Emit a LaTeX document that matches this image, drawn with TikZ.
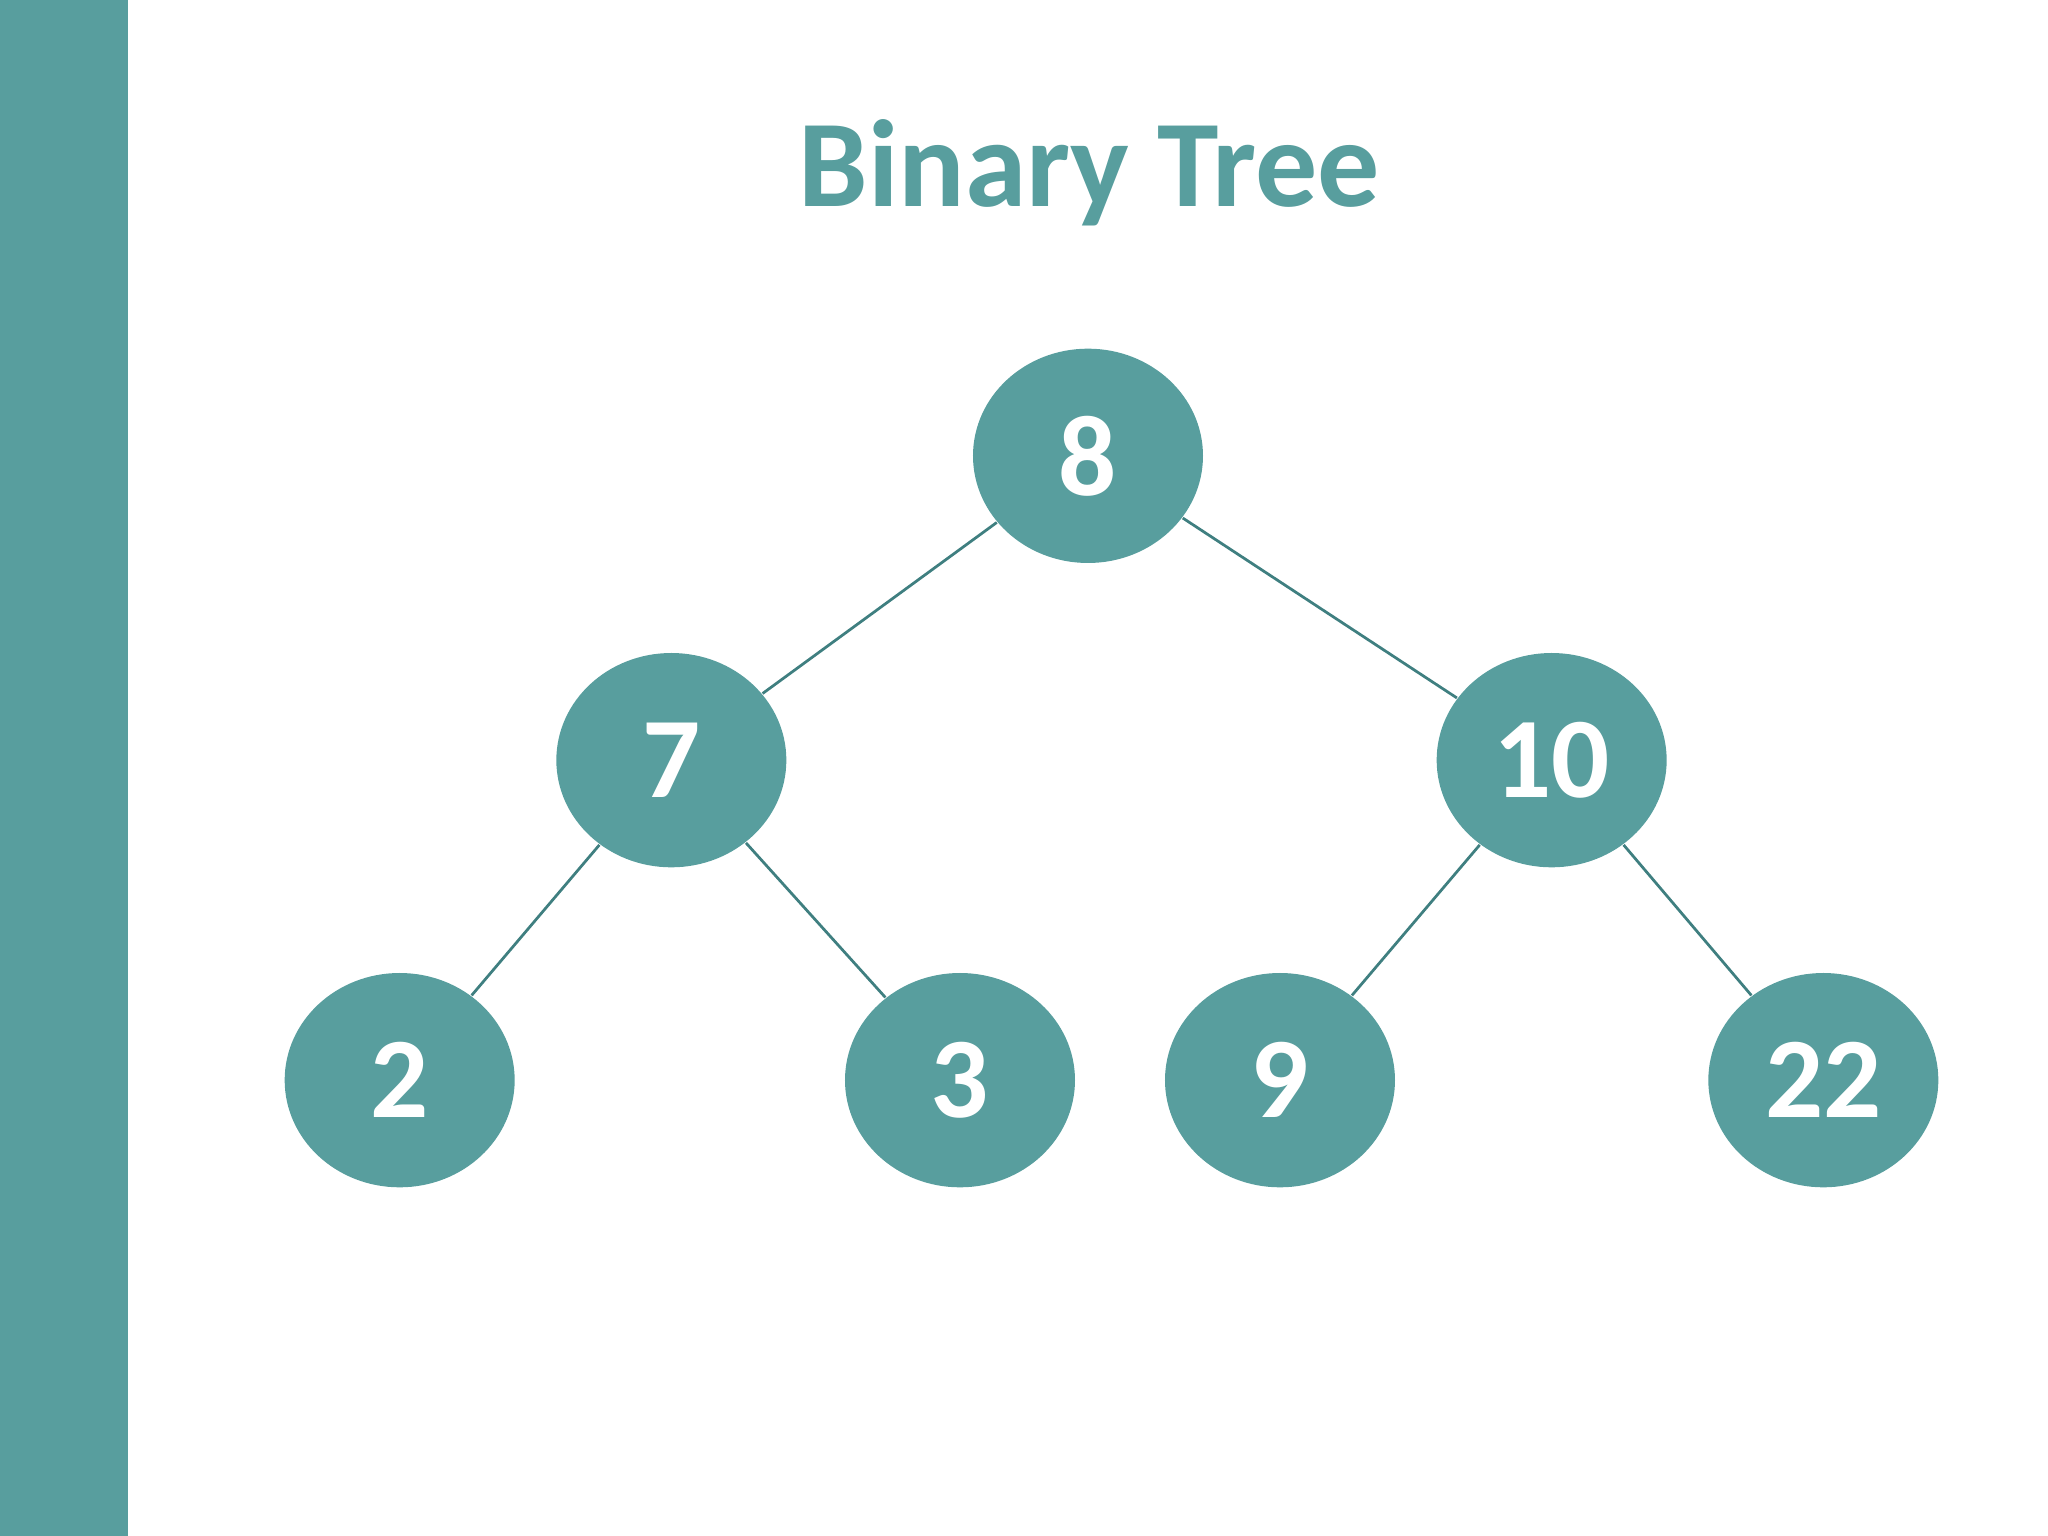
\documentclass[tikz,border=0pt]{standalone}
\usepackage{fontspec}
\setmainfont{Carlito}
\usetikzlibrary{shapes.geometric}
\definecolor{teal1}{HTML}{589E9E}
\definecolor{teal2}{HTML}{3F7F80}
\begin{document}
\begin{tikzpicture}[x=0.01cm,y=-0.01cm,
  tn/.style={ellipse,fill=teal1,minimum width=176\pgflinewidth*0+1.76cm,minimum height=1.64cm,inner sep=0pt,text=white,font=\fontsize{25}{30}\selectfont\bfseries},
  edge/.style={draw=teal2,line width=0.6pt}]
\useasboundingbox (0,0) rectangle (1568,1176);
\fill[teal1] (0,0) rectangle (98,1176);
\node[text=teal1,font=\fontsize{27}{32}\selectfont\bfseries] (title) at (834,132) {Binary Tree};
\node[tn] (n8) at (833,349) {8};
\node[tn] (n7) at (514,582) {7};
\node[tn] (n10) at (1188,582) {10};
\node[tn] (n2) at (306,827) {2};
\node[tn] (n3) at (735,827) {3};
\node[tn] (n9) at (980,827) {9};
\node[tn] (n22) at (1396,827) {22};
\draw[edge] (n8) -- (n7);
\draw[edge] (n8) -- (n10);
\draw[edge] (n7) -- (n2);
\draw[edge] (n7) -- (n3);
\draw[edge] (n10) -- (n9);
\draw[edge] (n10) -- (n22);
\end{tikzpicture}
\end{document}
